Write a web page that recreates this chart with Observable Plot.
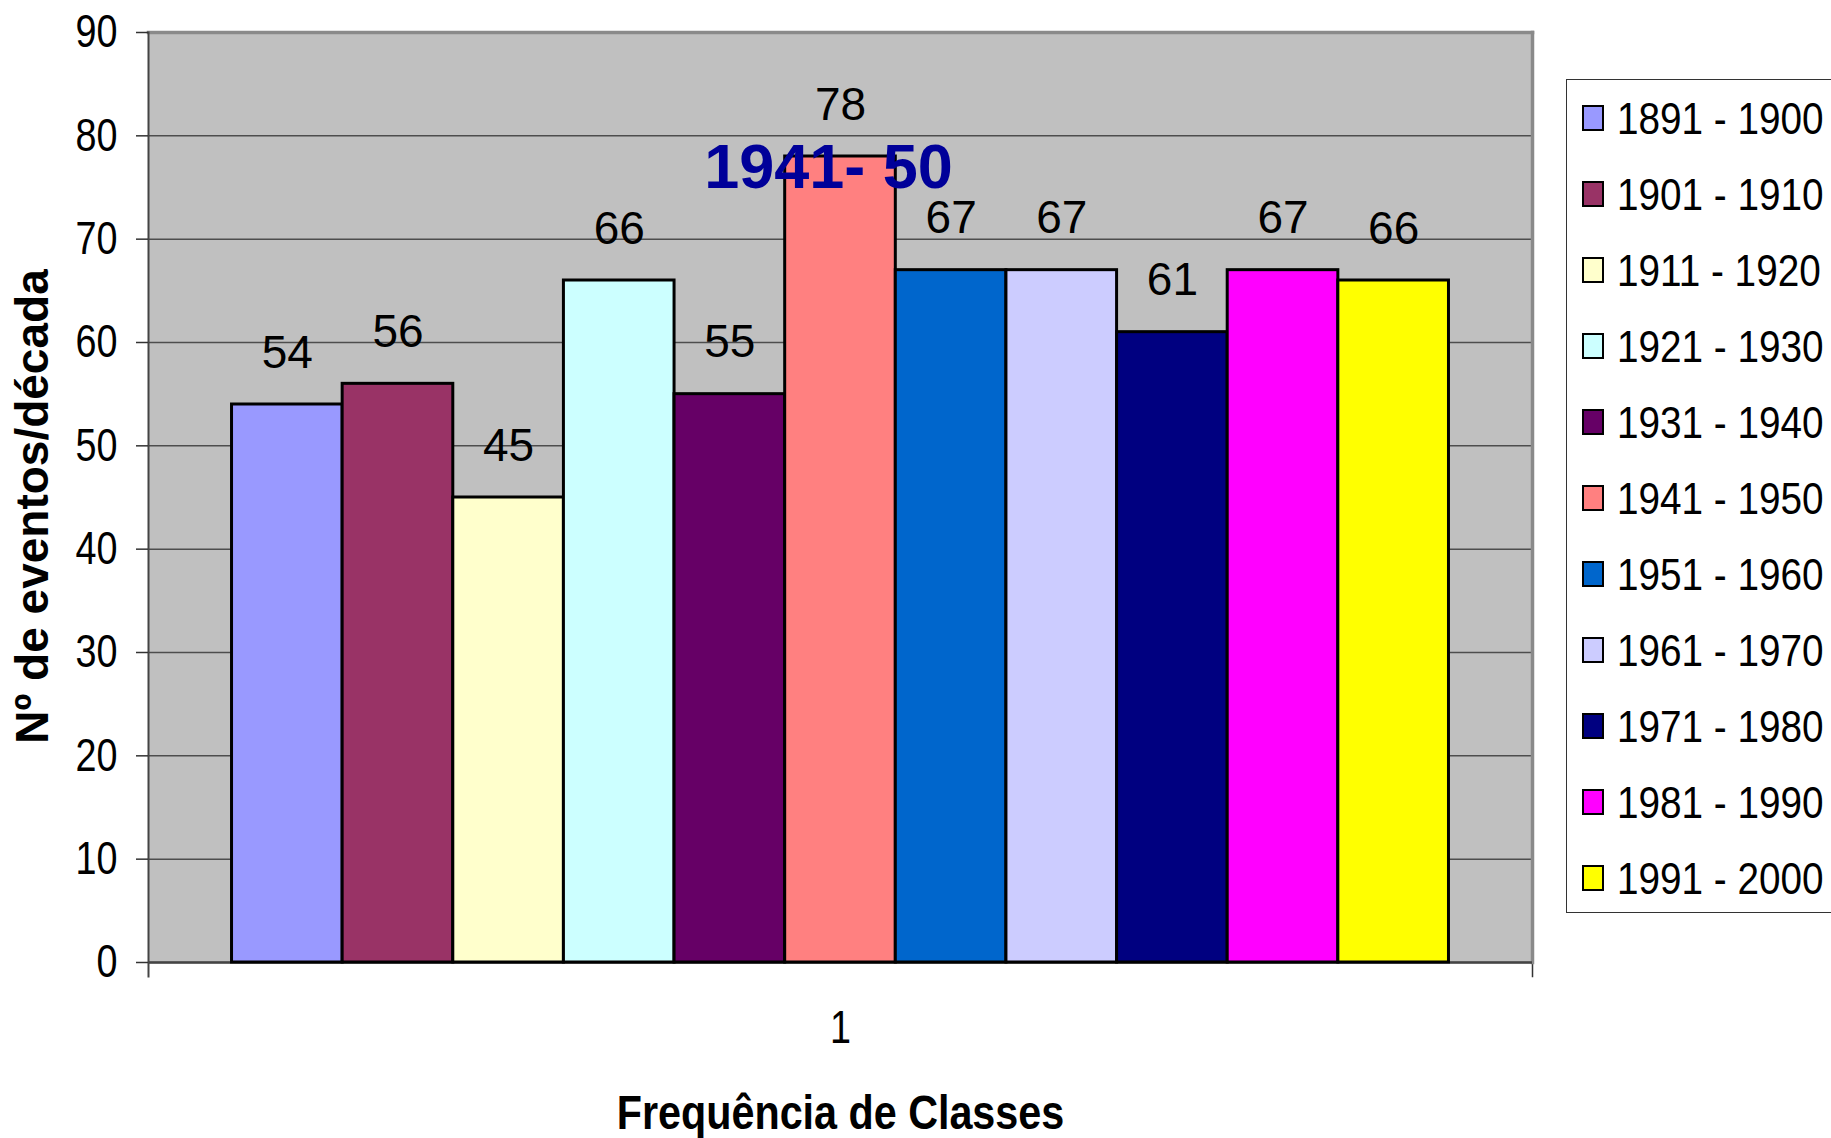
<!DOCTYPE html>
<html>
<head>
<meta charset="utf-8">
<script src="https://cdn.jsdelivr.net/npm/d3@7"></script>
<script src="https://cdn.jsdelivr.net/npm/@observablehq/plot@0.6"></script>
<style>
  html, body { margin: 0; padding: 0; background: #fff; overflow: hidden; width: 1831px; height: 1138px; }
  #wrap { position: relative; width: 1831px; height: 1138px; }
  #chart svg { display: block; }
  g[aria-label="y-axis label"] text { font-weight: bold; font-size: 46px; }
  g[aria-label="fx-axis label"] text { font-weight: bold; font-size: 48px; }
  #legend { position: absolute; left: 1566px; top: 79px; width: 300px; height: 834px; box-sizing: border-box;
            border: 1.5px solid #333; background: #fff; padding-top: 0px;
            font-family: 'Liberation Sans', Arial, sans-serif; font-size: 45px; }
  .item { height: 76px; display: flex; align-items: center; line-height: 1; white-space: pre; }
  .sw { width: 22px; height: 26px; box-sizing: border-box; border: 2.5px solid #000; margin-left: 15px; margin-right: 13px; flex: none; }
  .lt { display: inline-block; transform: scaleX(0.86); transform-origin: left center; }
</style>
</head>
<body>
<div id="wrap">
  <div id="chart"></div>
  <div id="legend"></div>
</div>
<script>
// ---- data ----
const decades = ["1891 - 1900", "1901 - 1910", "1911 - 1920", "1921 - 1930", "1931 - 1940",
                 "1941 - 1950", "1951 - 1960", "1961 - 1970", "1971 - 1980", "1981 - 1990", "1991 - 2000"];
const counts = [54, 56, 45, 66, 55, 78, 67, 67, 61, 67, 66];
const colors = ["#9999FF", "#993366", "#FFFFCC", "#CCFFFF", "#660066", "#FF8080",
                "#0066CC", "#CCCCFF", "#000080", "#FF00FF", "#FFFF00"];
const classes = ["1"];
const yTicks = [0, 10, 20, 30, 40, 50, 60, 70, 80, 90];
const annotationDecades = ["1941 - 1950"];
const annotationTexts = ["1941- 50"];
const yLabel = "Nº de eventos/década";
const xLabel = "Frequência de Classes";

const table = decades.map((d, i) => ({decade: d, count: counts[i], classe: classes[0]}));
const annotations = annotationDecades.map((d, i) => ({
  decade: d, count: counts[decades.indexOf(d)], label: annotationTexts[i], classe: classes[0]
}));

const chart = Plot.plot({
  width: 1831,
  height: 1138,
  marginLeft: 148,
  marginRight: 299,
  marginTop: 32,
  marginBottom: 176,
  style: {fontFamily: "'Liberation Sans', Arial, sans-serif", fontSize: "46px", background: "#fff", color: "#000"},
  fx: {domain: classes, padding: 0},
  x: {domain: decades, axis: null, paddingInner: 0, paddingOuter: 0.755, round: false},
  y: {domain: [0, 90]},
  color: {domain: decades, range: colors},
  marks: [
    Plot.frame({fill: "#C0C0C0"}),
    Plot.gridY(yTicks, {stroke: "#4d4d4d", strokeOpacity: 1, strokeWidth: 1.5}),
    Plot.frame({anchor: "right", stroke: "#333", strokeWidth: 1.5, insetBottom: -14}),
    Plot.frame({anchor: "right", stroke: "#8a8a8a", strokeWidth: 3.5}),
    Plot.frame({anchor: "top", stroke: "#8a8a8a", strokeWidth: 3.5}),
    Plot.ruleY([0], {stroke: "#444", strokeWidth: 2.5}),
    Plot.barY(table, {fx: "classe", x: "decade", y: "count", fill: "decade", stroke: "#000", strokeWidth: 3}),
    Plot.frame({anchor: "left", stroke: "#444", strokeWidth: 2, insetBottom: -14}),
    Plot.text(table, {fx: "classe", x: "decade", y: "count", text: d => String(d.count), ariaLabel: "value label",
                      lineAnchor: "bottom", dy: -37, fontSize: 46, fill: "#000"}),
    Plot.text(annotations, {fx: "classe", x: "decade", y: "count", text: "label",
                            lineAnchor: "bottom", dx: -12, dy: 31, fontSize: 63, fontWeight: "bold", fill: "#000099"}),
    Plot.axisY(yTicks, {tickSize: 12, tickPadding: 19, stroke: "#333", strokeWidth: 1.5, fontSize: 46,
                        label: yLabel, labelAnchor: "center", labelOffset: 133, labelArrow: "none"}),
    Plot.axisFx({anchor: "bottom", tickSize: 0, tickPadding: 48, fontSize: 46,
                 label: xLabel, labelAnchor: "center", labelOffset: 166, labelArrow: "none"})
  ]
});
document.getElementById("chart").appendChild(chart);

// condense texts (the reference uses a narrow face)
function condense(selector, factor) {
  chart.querySelectorAll(selector).forEach(t => {
    const L = t.getComputedTextLength();
    t.setAttribute("textLength", L * factor);
    t.setAttribute("lengthAdjust", "spacingAndGlyphs");
  });
}
condense('g[aria-label="y-axis tick label"] text', 0.82);
condense('g[aria-label="fx-axis tick label"] text', 0.82);
condense('g[aria-label="value label"] text', 0.82);
condense('g[aria-label="fx-axis label"] text', 0.86);

// nudge the y-axis title down slightly (reference centres it a little below the frame middle)
chart.querySelectorAll('g[aria-label="y-axis label"]').forEach(g => {
  const t = g.getAttribute("transform") || "";
  g.setAttribute("transform", (t + " translate(0,9)").trim());
});

// ---- legend ----
const legend = document.getElementById("legend");
decades.forEach((d, i) => {
  const item = document.createElement("div");
  item.className = "item";
  const sw = document.createElement("span");
  sw.className = "sw";
  sw.style.background = colors[i];
  const tx = document.createElement("span");
  tx.className = "lt";
  tx.textContent = d;
  item.appendChild(sw);
  item.appendChild(tx);
  legend.appendChild(item);
});
</script>
</body>
</html>
